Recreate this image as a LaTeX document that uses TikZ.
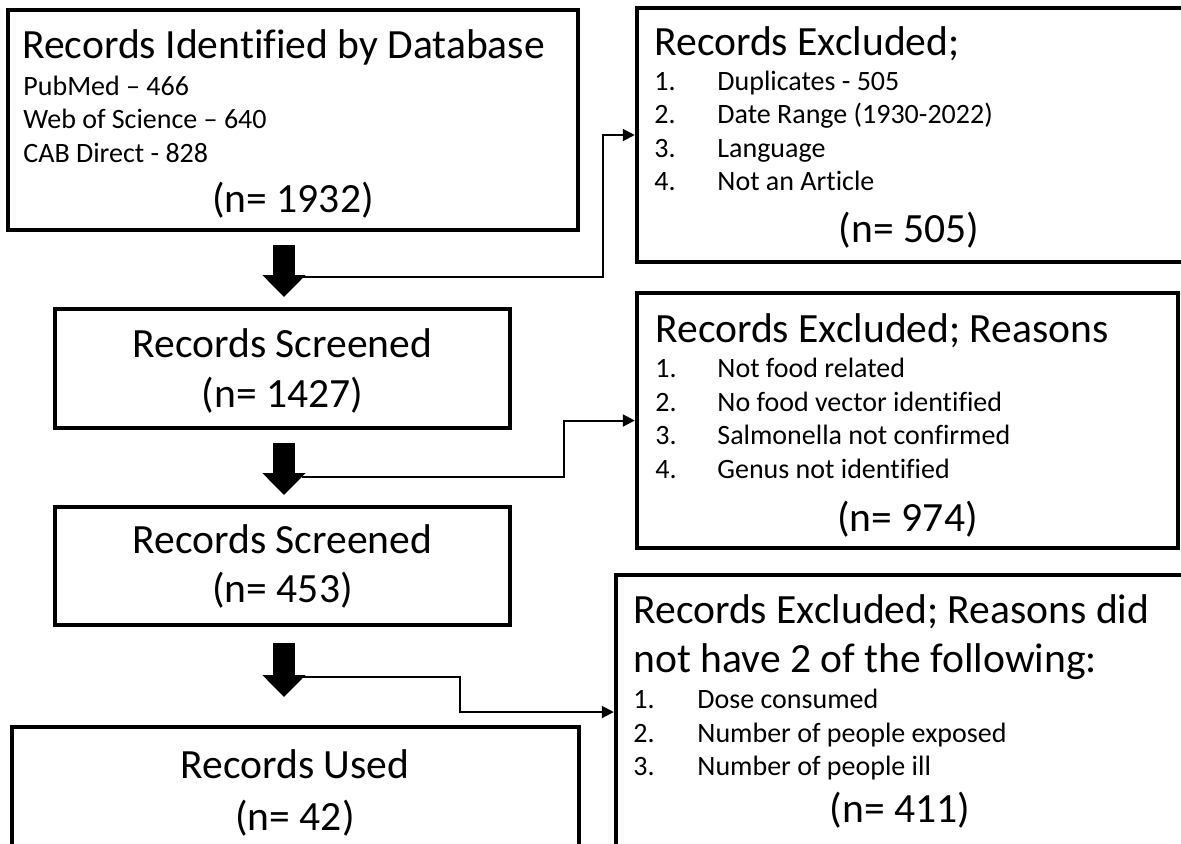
\documentclass[tikz,border=0pt]{standalone}
\usepackage{fontspec}
\setmainfont{Carlito}[Ligatures=NoCommon]
\usetikzlibrary{arrows.meta,positioning}

\tikzset{
  recbox/.style={draw, line width=2.25pt, inner sep=0pt},
  bigtxt/.style={font=\fontsize{20.8}{25}\selectfont, inner sep=0pt},
  smalltxt/.style={font=\fontsize{14}{16}\selectfont, inner sep=0pt},
  blockarrow/.style={line width=11pt, -{Triangle[width=21pt,length=11pt]}},
  link/.style={line width=1pt, -{Triangle[width=6pt,length=6pt]}},
}

\begin{document}
\begin{tikzpicture}[x=0.5pt,y=-0.5pt]
    \useasboundingbox (0,0) rectangle (1181,843);

    % Boxes
    \node[recbox, minimum width=285pt, minimum height=110pt] (ident) at (293,120) {};
    \node[recbox, minimum width=296.5pt, minimum height=127pt] (excla) at (933.5,135) {};
    \node[recbox, minimum width=227.5pt, minimum height=59.5pt] (scra) at (282.5,368.5) {};
    \node[recbox, minimum width=270.5pt, minimum height=127.5pt] (exclb) at (907.5,420.5) {};
    \node[recbox, minimum width=227.5pt, minimum height=59pt] (scrb) at (282.5,566) {};
    \node[recbox, minimum width=307pt, minimum height=137pt] (exclc) at (923,712) {};
    \node[recbox, minimum width=283.5pt, minimum height=61.5pt] (used) at (295.5,788.5) {};

    % Records identified
    \node[bigtxt, anchor=base west] (identT) at (22,58) {Records Identified by Database};
    \node[smalltxt, anchor=base west] (identA) at (23,95) {PubMed – 466};
    \node[smalltxt, anchor=base west] (identB) at (23,128) {Web of Science – 640};
    \node[smalltxt, anchor=base west] (identC) at (23,162) {CAB Direct - 828};
    \node[bigtxt, anchor=base] (identN) at (293,212) {(n= 1932)};

    % First exclusion
    \node[bigtxt, anchor=base west] (exclaT) at (654,55) {Records Excluded;};
    \node[smalltxt, anchor=base west] (exclaA) at (654,90) {1.};
    \node[smalltxt, anchor=base west] (exclaB) at (654,123) {2.};
    \node[smalltxt, anchor=base west] (exclaC) at (654,157) {3.};
    \node[smalltxt, anchor=base west] (exclaD) at (654,190) {4.};
    \node[smalltxt, anchor=base west] (exclaA2) at (717,90) {Duplicates - 505};
    \node[smalltxt, anchor=base west] (exclaB2) at (717,123) {Date Range (1930-2022)};
    \node[smalltxt, anchor=base west] (exclaC2) at (717,157) {Language};
    \node[smalltxt, anchor=base west] (exclaD2) at (717,190) {Not an Article};
    \node[bigtxt, anchor=base] (exclaN) at (909,242) {(n= 505)};

    % Screened
    \node[bigtxt, anchor=base] (scraT) at (282.5,357) {Records Screened};
    \node[bigtxt, anchor=base] (scraN) at (282.5,407) {(n= 1427)};
    \node[bigtxt, anchor=base] (scrbT) at (282.5,553) {Records Screened};
    \node[bigtxt, anchor=base] (scrbN) at (282.5,602) {(n= 453)};

    % Second exclusion
    \node[bigtxt, anchor=base west] (exclbT) at (655,342) {Records Excluded; Reasons};
    \node[smalltxt, anchor=base west] (exclbA) at (655,377) {1.};
    \node[smalltxt, anchor=base west] (exclbB) at (655,411) {2.};
    \node[smalltxt, anchor=base west] (exclbC) at (655,444) {3.};
    \node[smalltxt, anchor=base west] (exclbD) at (655,478) {4.};
    \node[smalltxt, anchor=base west] (exclbA2) at (717,377) {Not food related};
    \node[smalltxt, anchor=base west] (exclbB2) at (717,411) {No food vector identified};
    \node[smalltxt, anchor=base west] (exclbC2) at (717,444) {Salmonella not confirmed};
    \node[smalltxt, anchor=base west] (exclbD2) at (717,478) {Genus not identified};
    \node[bigtxt, anchor=base] (exclbN) at (907.5,531) {(n= 974)};

    % Third exclusion
    \node[bigtxt, anchor=base west] (exclcT) at (633,623) {Records Excluded; Reasons did};
    \node[bigtxt, anchor=base west] (exclcU) at (633,672) {not have 2 of the following:};
    \node[smalltxt, anchor=base west] (exclcA) at (633,708) {1.};
    \node[smalltxt, anchor=base west] (exclcB) at (633,742) {2.};
    \node[smalltxt, anchor=base west] (exclcC) at (633,775) {3.};
    \node[smalltxt, anchor=base west] (exclcA2) at (697,708) {Dose consumed};
    \node[smalltxt, anchor=base west] (exclcB2) at (697,742) {Number of people exposed};
    \node[smalltxt, anchor=base west] (exclcC2) at (697,775) {Number of people ill};
    \node[bigtxt, anchor=base] (exclcN) at (900,822) {(n= 411)};

    % Used
    \node[bigtxt, anchor=base] (usedT) at (295,778) {Records Used};
    \node[bigtxt, anchor=base] (usedN) at (295,830) {(n= 42)};

    % Block arrows
    \coordinate (sa) at (284,245);
    \coordinate (ta) at (284,297);
    \coordinate (sb) at (284,443);
    \coordinate (tb) at (284,495);
    \coordinate (sc) at (284,643);
    \coordinate (tc) at (284,697);
    \draw[blockarrow] (sa) -- (ta);
    \draw[blockarrow] (sb) -- (tb);
    \draw[blockarrow] (sc) -- (tc);

    % Side links
    \coordinate (ja) at (302,277);
    \coordinate (jb) at (302,477);
    \coordinate (jc) at (302,677);
    \draw[link] (ja) -- ++(301,0) |- (excla.west);
    \draw[link] (jb) -- ++(262,0) |- (exclb.west);
    \draw[link] (jc) -- ++(158,0) |- (exclc.west);
\end{tikzpicture}
\end{document}
